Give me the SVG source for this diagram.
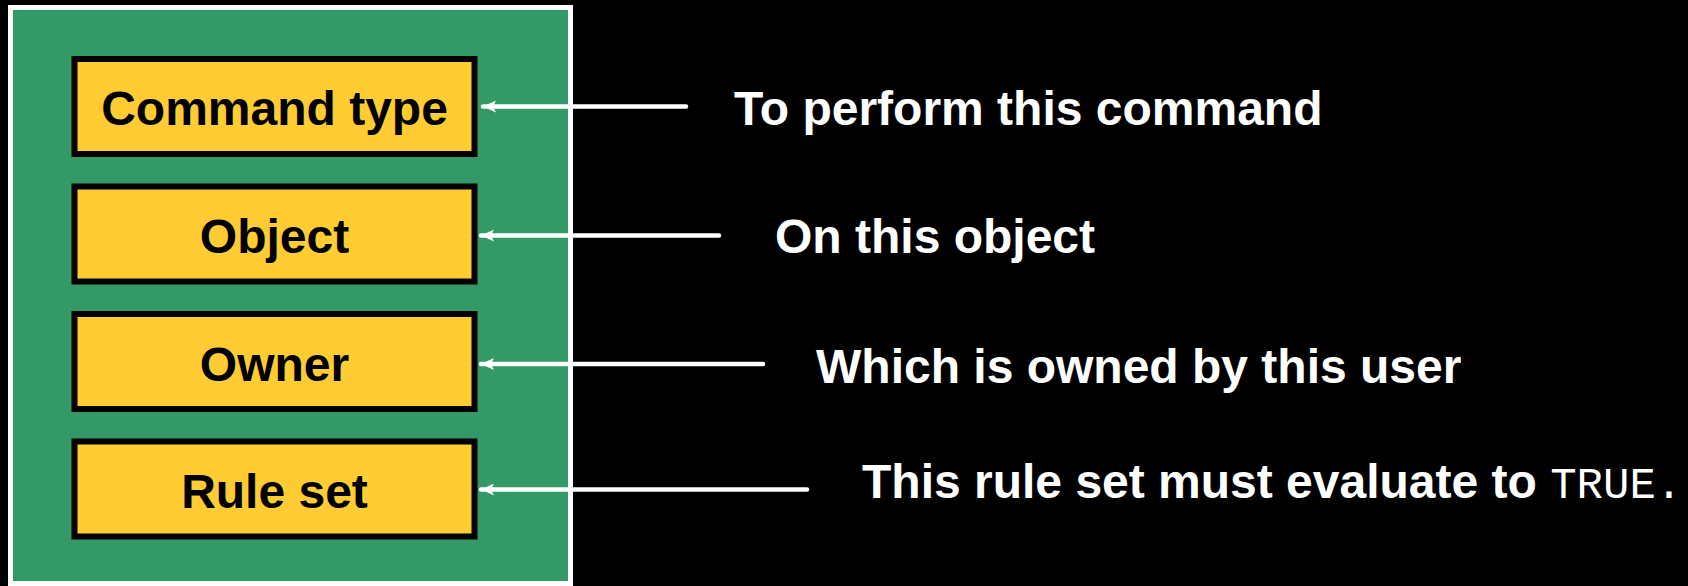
<svg xmlns="http://www.w3.org/2000/svg" width="1688" height="586" viewBox="0 0 1688 586">
  <defs>
    <style>
      .panel { fill: #339966; stroke: #ffffff; stroke-width: 5; }
      .field rect { fill: #ffcc33; stroke: #000000; stroke-width: 6; }
      .field text { font-family: "Liberation Sans", Arial, sans-serif; font-weight: bold; font-size: 48px; fill: #000000; text-anchor: middle; }
      .note { font-family: "Liberation Sans", Arial, sans-serif; font-weight: bold; font-size: 48px; fill: #ffffff; }
      .mono { font-family: "Liberation Mono", "Courier New", monospace; font-weight: normal; font-size: 44px; }
      .link { stroke: #ffffff; stroke-width: 4.5; stroke-linecap: round; fill: none; }
    </style>
    <marker id="head" markerUnits="userSpaceOnUse" markerWidth="14" markerHeight="12" refX="13" refY="6" orient="auto">
      <path d="M0,0 L13,6 L0,12 L3,6 Z" fill="#ffffff"/>
    </marker>
  </defs>

  <rect x="0" y="0" width="1688" height="586" fill="#000000"/>

  <!-- panel holding the four fields -->
  <rect class="panel" x="10.5" y="7.5" width="560" height="576"/>

  <g id="command-type" class="field">
    <rect x="74.5" y="59" width="400" height="95"/>
    <text x="274.5" y="125">Command type</text>
  </g>
  <g id="object" class="field">
    <rect x="74.5" y="186.5" width="400" height="95"/>
    <text x="274.5" y="253">Object</text>
  </g>
  <g id="owner" class="field">
    <rect x="74.5" y="314" width="400" height="95"/>
    <text x="274.5" y="380.5">Owner</text>
  </g>
  <g id="rule-set" class="field">
    <rect x="74.5" y="441.5" width="400" height="95"/>
    <text x="274.5" y="507.5">Rule set</text>
  </g>

  <!-- explanatory labels -->
  <g id="note-command">
    <text class="note" x="734" y="125">To perform this command</text>
  </g>
  <g id="note-object">
    <text class="note" x="775" y="253">On this object</text>
  </g>
  <g id="note-owner">
    <text class="note" x="816" y="383">Which is owned by this user</text>
  </g>
  <g id="note-rules">
    <text class="note" x="862" y="498">This rule set must evaluate to <tspan class="mono">TRUE.</tspan></text>
  </g>

  <!-- connectors from labels to fields -->
  <g id="connectors">
    <line class="link" x1="686" y1="106.5" x2="483" y2="106.5" marker-end="url(#head)"/>
    <line class="link" x1="719" y1="235.5" x2="481" y2="235.5" marker-end="url(#head)"/>
    <line class="link" x1="763" y1="364" x2="481" y2="364" marker-end="url(#head)"/>
    <line class="link" x1="807" y1="489.5" x2="481" y2="489.5" marker-end="url(#head)"/>
  </g>
</svg>
